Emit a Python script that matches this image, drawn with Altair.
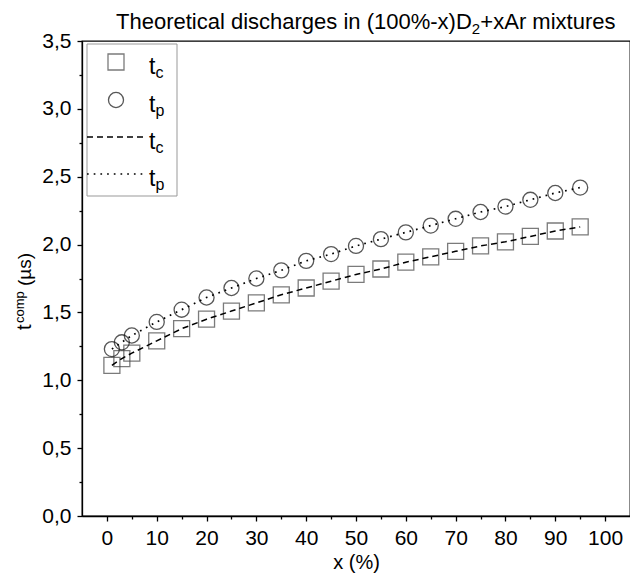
import altair as alt
import pandas as pd

# ---- data ----
x_vals = [1, 3, 5, 10, 15, 20, 25, 30, 35, 40, 45, 50, 55, 60, 65, 70, 75, 80, 85, 90, 95]
tc_vals = [1.11, 1.16, 1.20, 1.29, 1.38, 1.45, 1.51, 1.57, 1.63, 1.68, 1.73,
           1.78, 1.82, 1.87, 1.91, 1.95, 1.99, 2.02, 2.06, 2.10, 2.13]
tp_vals = [1.23, 1.28, 1.33, 1.43, 1.52, 1.61, 1.68, 1.75, 1.81, 1.88, 1.93,
           1.99, 2.04, 2.09, 2.14, 2.19, 2.24, 2.28, 2.33, 2.38, 2.42]

x_ticks = list(range(0, 101, 5))
y_ticks = [i * 0.25 for i in range(15)]

title_main = "Theoretical discharges in (100%-x)D"
title_sub = "2"
title_rest = "+xAr mixtures"

df = pd.DataFrame({"x": x_vals, "tc": tc_vals, "tp": tp_vals})
one = alt.Data(values=[{"k": 1}])

FONT = "Liberation Sans"

xscale = alt.Scale(domain=[-5, 105], nice=False, zero=False)
yscale = alt.Scale(domain=[0, 3.5], nice=False)

xaxis = alt.Axis(
    values=x_ticks,
    title="x (%)",
    labelExpr="datum.value % 10 == 0 ? datum.label : ''",
    tickSize={"condition": {"test": "datum.value % 10 == 0", "value": 5}, "value": 3},
    labelPadding=6,
    titlePadding=4,
    titleFontSize=20,
    titleFontWeight="normal",
    titleFont=FONT,
)
yaxis = alt.Axis(
    values=y_ticks,
    title=None,
    labelExpr="abs(datum.value*2 - round(datum.value*2)) < 0.001 ? replace(format(datum.value, '.1f'), '.', ',') : ''",
    tickSize={"condition": {"test": "abs(datum.value*2 - round(datum.value*2)) < 0.001", "value": 5}, "value": 3},
    labelPadding=6,
)

SQ_SIZE = 256
CI_SIZE = 227

base = alt.Chart(df)

sq = base.mark_point(shape="square", size=SQ_SIZE, filled=False, stroke="#444444", strokeWidth=1.3).encode(
    x=alt.X("x:Q", scale=xscale, axis=xaxis),
    y=alt.Y("tc:Q", scale=yscale, axis=yaxis),
)
ci = base.mark_point(shape="circle", size=CI_SIZE, filled=False, stroke="#111111", strokeWidth=1.3).encode(
    x=alt.X("x:Q", scale=xscale, axis=xaxis),
    y=alt.Y("tp:Q", scale=yscale, axis=yaxis),
)
ln_c = base.mark_line(color="black", strokeWidth=1.5, strokeDash=[6, 4]).encode(
    x=alt.X("x:Q", scale=xscale, axis=xaxis),
    y=alt.Y("tc:Q", scale=yscale, axis=yaxis),
)
ln_p = base.mark_line(color="black", strokeWidth=1.7, strokeDash=[1.7, 5]).encode(
    x=alt.X("x:Q", scale=xscale, axis=xaxis),
    y=alt.Y("tp:Q", scale=yscale, axis=yaxis),
)


def txt(s, x, y, size, angle=0, align="left"):
    kw = dict(align=align, baseline="alphabetic", fontSize=size, font=FONT, color="black")
    if angle:
        kw["angle"] = angle
    return alt.Chart(one).mark_text(**kw).encode(
        x=alt.value(x), y=alt.value(y), text=alt.value(s)
    )


# legend
leg_box = alt.Chart(one).mark_rect(fill="white", stroke="#999999", strokeWidth=1).encode(
    x=alt.value(5), x2=alt.value(95), y=alt.value(3), y2=alt.value(155)
)
leg_sq = alt.Chart(one).mark_point(shape="square", size=SQ_SIZE, filled=False, stroke="#444444", strokeWidth=1.3).encode(
    x=alt.value(34), y=alt.value(21)
)
leg_ci = alt.Chart(one).mark_point(shape="circle", size=CI_SIZE, filled=False, stroke="#111111", strokeWidth=1.3).encode(
    x=alt.value(34), y=alt.value(59)
)
leg_dash = alt.Chart(one).mark_rule(color="black", strokeWidth=1.5, strokeDash=[6, 4]).encode(
    x=alt.value(5), x2=alt.value(62), y=alt.value(96)
)
leg_dot = alt.Chart(one).mark_rule(color="black", strokeWidth=1.7, strokeDash=[1.7, 5]).encode(
    x=alt.value(5), x2=alt.value(62), y=alt.value(133)
)
leg_txt = [
    txt("t", 67, 33, 23), txt("c", 73.5, 37, 16),
    txt("t", 67, 71, 23), txt("p", 73.5, 75, 16),
    txt("t", 67, 108, 23), txt("c", 73.5, 112, 16),
    txt("t", 67, 145, 23), txt("p", 73.5, 149, 16),
]

# title with subscript
TFS = 22
w_main = 16.171 * TFS
TX0 = 34
title_layers = [
    txt(title_main, TX0, -12, TFS),
    txt(title_sub, TX0 + w_main, -7, 15),
    txt(title_rest, TX0 + w_main + 8.6, -12, TFS),
]

# y axis title with superscript (rotated)
ytitle_layers = [
    txt("t", -51, 289, 20, angle=270),
    txt("comp", -58, 282, 13, angle=270),
    txt("(µs)", -51, 245, 19, angle=270),
]

chart = alt.layer(
    sq, ci, ln_c, ln_p,
    leg_box, leg_sq, leg_ci, leg_dash, leg_dot,
    *leg_txt, *title_layers, *ytitle_layers,
).properties(
    width=548,
    height=475,
    padding={"left": 74, "top": 33, "right": 0, "bottom": 61},
    autosize=alt.AutoSizeParams(type="none"),
).configure_view(
    stroke="black", strokeWidth=1.3
).configure_axis(
    grid=False,
    domainColor="black",
    domainWidth=1.3,
    tickColor="black",
    tickWidth=1.3,
    labelColor="black",
    labelFont=FONT,
    labelFontSize=21,
    titleColor="black",
)

chart.save("out.html", embed_options={"renderer": "svg", "actions": False})
